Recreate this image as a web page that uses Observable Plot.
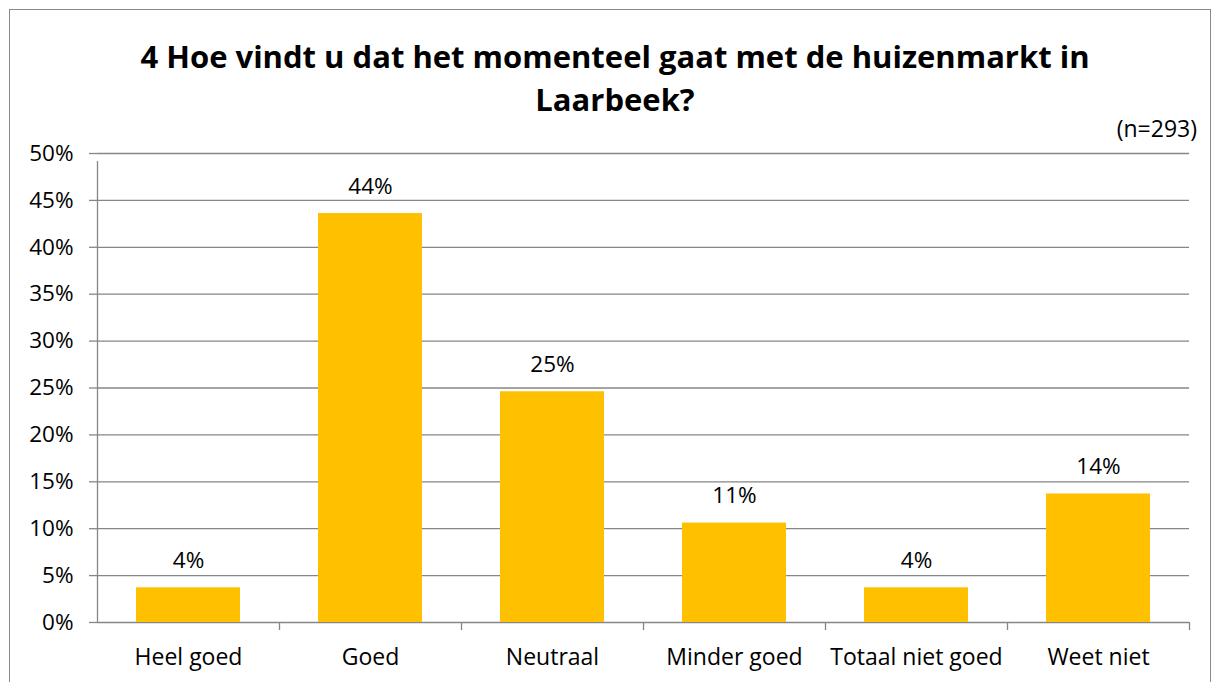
<!DOCTYPE html>
<html>
<head>
<meta charset="utf-8">
<script src="https://cdn.jsdelivr.net/npm/d3@7"></script>
<script src="https://cdn.jsdelivr.net/npm/@observablehq/plot@0.6"></script>
<style>
  html, body { margin: 0; padding: 0; background: #fff; overflow: hidden; }
  body { width: 1214px; height: 682px; position: relative; font-family: "Open Sans", sans-serif; }
  #frame { position: absolute; left: 9px; top: 9px; width: 1202px; height: 720px; border: 1px solid #8a8a8a; box-sizing: border-box; }
  #title { position: absolute; left: 8px; top: 35px; width: 1214px; text-align: center; font-weight: bold; font-size: 31px; line-height: 43px; color: #000; }
  #n { position: absolute; right: 17px; top: 113px; font-size: 23px; line-height: 31px; color: #000; }
  #chart { position: absolute; left: 0; top: 120px; }
</style>
</head>
<body>
<div id="frame"></div>
<div id="title">4 Hoe vindt u dat het momenteel gaat met de huizenmarkt in<br>Laarbeek?</div>
<div id="n">(n=293)</div>
<div id="chart"></div>
<script>
const categories = ["Heel goed", "Goed", "Neutraal", "Minder goed", "Totaal niet goed", "Weet niet"];
const values = [3.7, 43.6, 24.6, 10.6, 3.7, 13.7];
const yTicks = [0, 5, 10, 15, 20, 25, 30, 35, 40, 45, 50];

const data = categories.map((c, i) => ({category: c, value: values[i]}));
const gridColor = "#868686";
const half = 91;

const plot = Plot.plot({
  width: 1214,
  height: 562,
  marginTop: 33,
  marginBottom: 60,
  marginLeft: 97,
  marginRight: 25,
  style: {fontFamily: "'Open Sans', sans-serif", fontSize: "22px", color: "#000", background: "transparent"},
  x: {domain: categories, paddingInner: 0.43, paddingOuter: 0.215, label: null},
  y: {domain: [0, 50], label: null},
  marks: [
    Plot.gridY(yTicks, {stroke: gridColor, strokeOpacity: 1, strokeWidth: 1.3}),
    Plot.axisY(yTicks, {tickSize: 8, tickPadding: 16, stroke: gridColor, strokeWidth: 1.3, tickFormat: d => d + "%", fontSize: 22.5, label: null}),
    Plot.axisX({tickSize: 0, tickPadding: 26, fontSize: 23, label: null}),
    Plot.barY(data, {x: "category", y: "value", fill: "#FFC000"}),
    Plot.ruleX([categories[0]], {x: d => d, dx: -half, y1: 0, y2: 50, insetBottom: -8, stroke: gridColor, strokeWidth: 1.3}),
    Plot.ruleX(categories.slice(1), {x: d => d, dx: -half, y1: 0, y2: 0, insetBottom: -8, stroke: gridColor, strokeWidth: 1.3}),
    Plot.ruleX([categories[categories.length - 1]], {x: d => d, dx: half, y1: 0, y2: 0, insetBottom: -8, stroke: gridColor, strokeWidth: 1.3}),
    Plot.text(data, {x: "category", y: "value", text: d => Math.round(d.value) + "%", dy: -27, fontSize: 22.5, fill: "#000"})
  ]
});
document.getElementById("chart").appendChild(plot);
</script>
</body>
</html>
